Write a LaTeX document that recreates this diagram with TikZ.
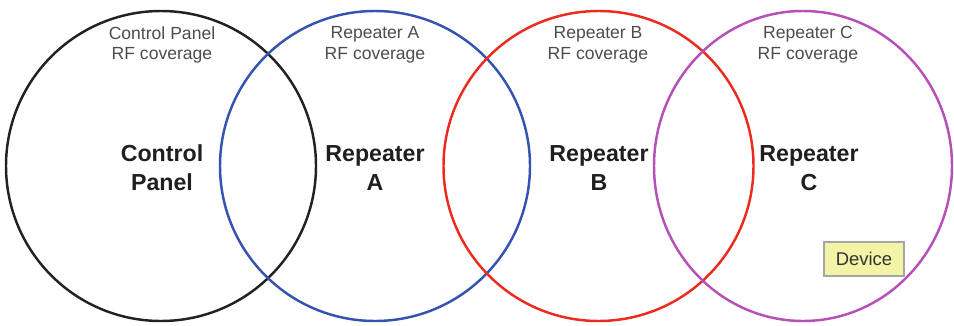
\documentclass[tikz,border=0pt]{standalone}
\usepackage{fontspec}
\setmainfont{Liberation Sans}
\definecolor{cpblack}{HTML}{222222}
\definecolor{rpblue}{HTML}{3553B0}
\definecolor{rpred}{HTML}{EC2A1E}
\definecolor{rpmagenta}{HTML}{B650B8}
\definecolor{devyellow}{HTML}{F4F4A6}
\tikzset{
  coverage/.style={text=black!70, font=\fontsize{10}{11.9}\selectfont},
  unitlabel/.style={text=black!88, font=\fontsize{13.2}{16.4}\selectfont\bfseries},
  devicebox/.style={draw=black!35, fill=devyellow, text=black!80, font=\fontsize{10.5}{12}\selectfont, minimum width=1.6cm, minimum height=0.68cm}
}
\begin{document}
\begin{tikzpicture}[x=0.02cm, y=-0.02cm, line width=1.4pt, every node/.style={align=center, inner sep=0pt}]
\useasboundingbox (0,0) rectangle (954,325);
% coverage circles
\draw[cpblack] (161,166) circle [radius=155];
\draw[rpblue] (375,166) circle [radius=155];
\draw[rpred] (598.5,166) circle [radius=155];
\draw[rpmagenta] (803,166) ellipse [x radius=149, y radius=155];
% labels
\node[coverage] (cprf) at (162,45) {Control Panel\\RF coverage};
\node[coverage] (arf) at (375,45) {Repeater A\\RF coverage};
\node[coverage] (brf) at (598,45) {Repeater B\\RF coverage};
\node[coverage] (crf) at (808,45) {Repeater C\\RF coverage};
\node[unitlabel] (cp) at (162,168) {Control\\Panel};
\node[unitlabel] (ra) at (375,168) {Repeater\\A};
\node[unitlabel] (rb) at (599,168) {Repeater\\B};
\node[unitlabel] (rc) at (809,168) {Repeater\\C};
\node[devicebox, line width=0.6pt] (dev) at (864,259) {Device};
\end{tikzpicture}
\end{document}
